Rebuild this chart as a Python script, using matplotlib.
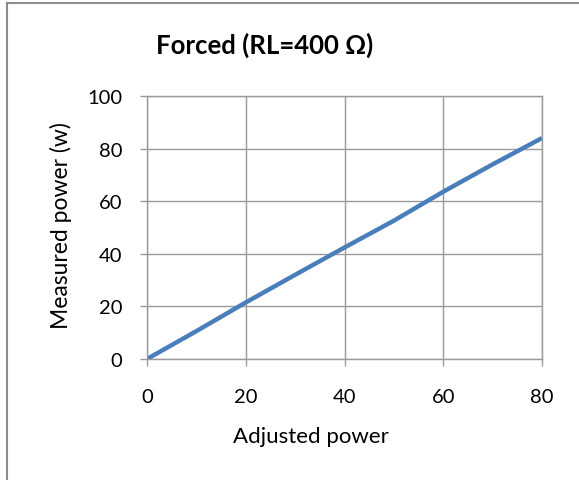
import matplotlib
matplotlib.use("Agg")
import matplotlib.pyplot as plt
from matplotlib.lines import Line2D

adjusted = [0, 10, 20, 30, 40, 50, 60, 70, 80]
measured = [0, 10.6, 21.5, 32, 42.4, 52.6, 63.6, 74, 84]
xticks = [0, 20, 40, 60, 80]
yticks = [0, 20, 40, 60, 80, 100]

W, H = 579, 481
fig = plt.figure(figsize=(W/100, H/100), dpi=100)
plt.rcParams['font.family'] = ['Lato', 'DejaVu Sans']

ax = fig.add_axes([147/W, 1-360/H, (542-147)/W, (360-97)/H])
ax.plot(adjusted, measured, color='#4a7ebb', lw=3.2, solid_capstyle='butt')
ax.set_xlim(0, 80)
ax.set_ylim(0, 100)
ax.set_xticks(xticks)
ax.set_yticks(yticks)
ax.grid(True, color='#9a9a9a', lw=1.0)
ax.set_axisbelow(True)
for s in ax.spines.values():
    s.set_color('#9a9a9a')
    s.set_linewidth(1.0)
ax.tick_params(axis='both', colors='#9a9a9a', length=5, width=1.0, labelcolor='#000000', labelsize=14.5)
ax.tick_params(axis='y', pad=13)
ax.tick_params(axis='x', pad=16)

fig.text(265/W, 1-45/H, 'Forced (RL=400 Ω)', ha='center', va='center', fontsize=18.5, fontweight='bold')
fig.text(311/W, 1-437/H, 'Adjusted power', ha='center', va='center', fontsize=16)
fig.text(61/W, 1-226/H, 'Measured power (w)', ha='center', va='center', fontsize=16.5, rotation=90)

# outer chart border (left and top visible)
fig.add_artist(Line2D([7.5/W, 7.5/W], [0, 1-3.5/H], transform=fig.transFigure, color='#8c8c8c', lw=1.5))
fig.add_artist(Line2D([7.5/W, 1], [1-3.5/H, 1-3.5/H], transform=fig.transFigure, color='#8c8c8c', lw=1.5))

fig.savefig('out.png', dpi=100)
